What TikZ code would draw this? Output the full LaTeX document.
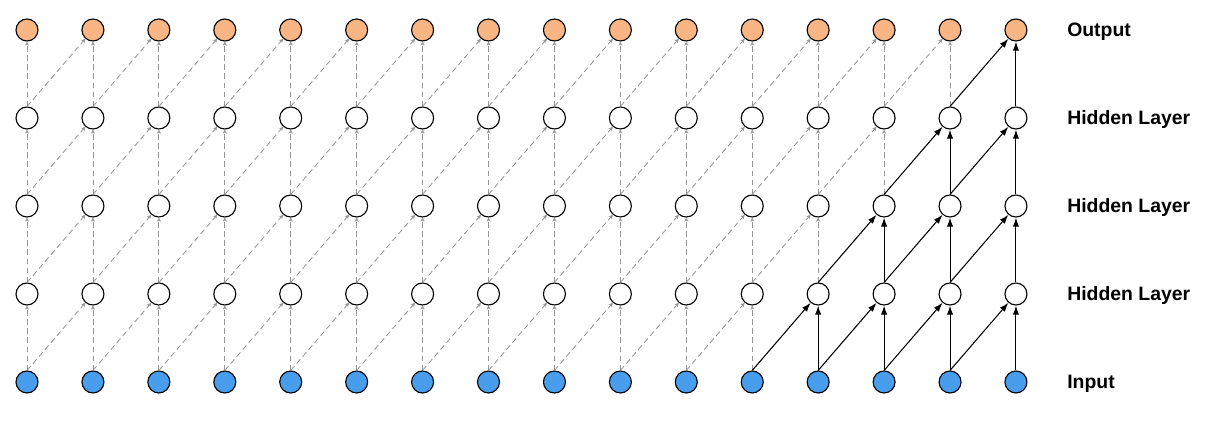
\documentclass[tikz,border=0pt]{standalone}
\usepackage{fontspec}
\setmainfont{Liberation Sans}
\usetikzlibrary{arrows.meta}
\definecolor{outorange}{RGB}{249,182,132}
\definecolor{inblue}{RGB}{72,158,236}
\definecolor{linkgray}{RGB}{150,150,150}
\tikzset{
	unit/.style={circle,draw=black,line width=0.8pt,minimum size=0.55cm,inner sep=0pt},
	faint/.style={linkgray,line width=0.6pt,dash pattern=on 4pt off 2.5pt,-{Stealth[length=3pt,width=3pt]}},
	strong/.style={black,line width=0.75pt,-{Latex[length=6.5pt,width=4.5pt]}},
	layername/.style={anchor=base west,inner sep=0pt,font=\bfseries\fontsize{13.8}{16}\selectfont}
}
\begin{document}
\begin{tikzpicture}[x=0.025cm,y=0.025cm]
	\useasboundingbox (0,0) rectangle (1217,427);
	\foreach \i in {0,...,15} {
		\node[unit,fill=inblue] (n0-\i) at ({27+65.93*\i},45) {};
		\foreach \r in {1,2,3}
			\node[unit,fill=white] (n\r-\i) at ({27+65.93*\i},{45+88*\r}) {};
		\node[unit,fill=outorange] (n4-\i) at ({27+65.93*\i},397) {};
	}
	\foreach \r in {1,...,4}
		\foreach \i in {0,...,15} {
			\pgfmathtruncatemacro\p{\r-1}
			\pgfmathtruncatemacro\j{\i-1}
			\ifnum\i>\numexpr10+\r\relax
				\draw[strong] (n\p-\i) -- (n\r-\i);
				\draw[strong] (n\p-\j.north) -- (n\r-\i);
			\else
				\draw[faint] (n\p-\i) -- (n\r-\i);
				\ifnum\i>0 \draw[faint] (n\p-\j.north) -- (n\r-\i);\fi
			\fi
		}
	\node[layername] (lout) at (1067,390) {Output};
	\node[layername] (lh3) at (1067,302) {Hidden Layer};
	\node[layername] (lh2) at (1067,214) {Hidden Layer};
	\node[layername] (lh1) at (1067,126) {Hidden Layer};
	\node[layername] (lin) at (1067,38) {Input};
\end{tikzpicture}
\end{document}
